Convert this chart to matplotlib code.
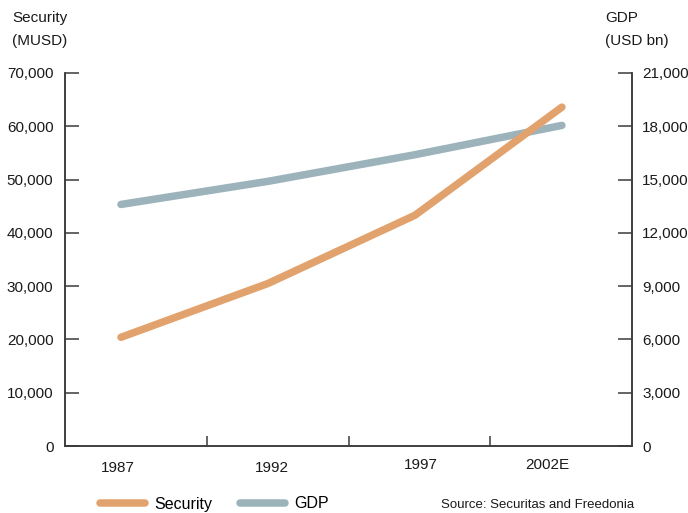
import numpy as np
import matplotlib
matplotlib.use("Agg")
import matplotlib.pyplot as plt
from matplotlib.lines import Line2D

plt.rcParams['font.family'] = ['Liberation Sans', 'DejaVu Sans']

years = [1987, 1992, 1997, 2002]
year_labels = ["1987", "1992", "1997", "2002E"]
security_musd = [20400, 30500, 43300, 63600]
gdp_usd_bn = [13600, 14900, 16400, 18050]

left_ticks = [0, 10000, 20000, 30000, 40000, 50000, 60000, 70000]
right_ticks = [0, 3000, 6000, 9000, 12000, 15000, 18000, 21000]

orange = "#E2A26D"
bluegrey = "#9CB3BC"
axis_col = "#3a3a3a"
fs = 11

fig = plt.figure(figsize=(6.88, 5.13), dpi=100)
ax = fig.add_axes([0.0938, 0.1306, 0.8255, 0.7271])
ax2 = ax.twinx()

ax.set_zorder(ax2.get_zorder() + 1)
ax.patch.set_visible(False)

xlim = (1985.08, 2004.4)
ax.set_xlim(*xlim)
ax.set_ylim(0, 70000)
ax2.set_ylim(0, 21000)

ax2.plot(years, gdp_usd_bn, color=bluegrey, lw=5.4, solid_capstyle="round",
         solid_joinstyle="round")
ax.plot(years, security_musd, color=orange, lw=5.4, solid_capstyle="round",
        solid_joinstyle="round")

for a in (ax, ax2):
    a.spines["top"].set_visible(False)
    for s in ("left", "right", "bottom"):
        a.spines[s].set_color(axis_col)
        a.spines[s].set_linewidth(1.1)

ax.set_yticks(left_ticks)
ax.set_yticklabels([f"{v:,}" for v in left_ticks])
ax2.set_yticks(right_ticks)
ax2.set_yticklabels([f"{v:,}" for v in right_ticks])
ax.tick_params(axis="y", direction="in", length=10, width=1.1, color=axis_col,
               labelsize=fs, pad=8, labelcolor="#1a1a1a")
ax2.tick_params(axis="y", direction="in", length=10, width=1.1, color=axis_col,
                labelsize=fs, pad=7, labelcolor="#1a1a1a")

# bottom axis: divider ticks between year bins, labels drawn as text
ax.set_xticks(np.linspace(xlim[0], xlim[1], 5)[1:-1])
ax.set_xticklabels([])
ax.tick_params(axis="x", direction="in", length=7, width=1.1, color=axis_col)

label_x = [1986.9, 1992.15, 1997.2, 2001.5]
label_y = [-4100, -4100, -3500, -3500]
for x, y, t in zip(label_x, label_y, year_labels):
    ax.text(x, y, t, ha="center", va="center", fontsize=fs, color="#1a1a1a")

fig.text(12 / 688, 1 - 18 / 513, "Security", fontsize=fs, ha="left", va="center",
         color="#1a1a1a")
fig.text(12 / 688, 1 - 41 / 513, "(MUSD)", fontsize=fs, ha="left", va="center",
         color="#1a1a1a")
fig.text(605 / 688, 1 - 18 / 513, "GDP", fontsize=fs, ha="left", va="center",
         color="#1a1a1a")
fig.text(605 / 688, 1 - 41 / 513, "(USD bn)", fontsize=fs, ha="left", va="center",
         color="#1a1a1a")

handles = [Line2D([], [], color=orange, lw=5.4, solid_capstyle="round"),
           Line2D([], [], color=bluegrey, lw=5.4, solid_capstyle="round")]
fig.legend(handles, ["Security", "GDP"], loc="center left",
           bbox_to_anchor=(86 / 688, 1 - 504 / 513), ncol=2, frameon=False,
           fontsize=11.5, handlelength=2.8, handletextpad=0.6, columnspacing=1.7)

fig.text(634 / 688, 1 - 505 / 513, "Source: Securitas and Freedonia", fontsize=9.5,
         ha="right", va="center", color="#1a1a1a")

fig.savefig("out.png", dpi=100)
